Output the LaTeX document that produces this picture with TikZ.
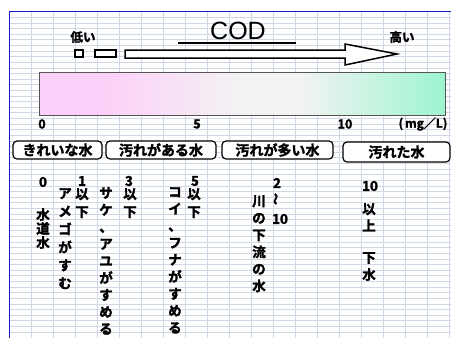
\documentclass[tikz,border=0pt]{standalone}
\usepackage{fontspec}
\newfontfamily\jpb{Noto Sans CJK JP Bold}[FakeBold=2]
\newfontfamily\codfont{Liberation Sans}
\definecolor{gridc}{RGB}{208,215,229}
\definecolor{pinkc}{RGB}{252,208,248}
\definecolor{midc}{RGB}{243,243,243}
\definecolor{mintc}{RGB}{158,244,208}
\definecolor{bluec}{RGB}{20,30,200}
\definecolor{barc}{RGB}{85,85,85}
\pgfdeclarehorizontalshading{codbar}{100bp}{color(0bp)=(pinkc); color(25bp)=(pinkc); color(33bp)=(pinkc); color(50bp)=(midc); color(57bp)=(midc); color(75bp)=(mintc); color(100bp)=(mintc)}
\tikzset{
  lbl/.style={inner sep=0pt, font=\jpb\fontsize{12.5}{14}\selectfont},
  num/.style={inner sep=0pt, font=\jpb\fontsize{13.5}{15}\selectfont},
  btn/.style={draw=black, line width=1.2pt, fill=white, rounded corners=4pt, inner sep=0pt, font=\jpb\fontsize{14}{15}\selectfont},
  vt/.style={inner sep=0pt, anchor=north, align=center, font=\jpb\fontsize{13.5}{18}\selectfont},
  vtt/.style={inner sep=0pt, anchor=north, align=center, font=\jpb\fontsize{13.5}{14}\selectfont},
  vts/.style={inner sep=0pt, anchor=north, align=center, font=\jpb\fontsize{13.5}{17}\selectfont},
}
\begin{document}
\begin{tikzpicture}[x=1pt,y=-1pt]
\useasboundingbox (0,0) rectangle (451,338);
\fill[white] (0,0) rectangle (451,338);
% grid
\foreach \i in {1,...,57} \draw[gridc, line width=0.8pt] (9.3,11.7+5.62*\i) -- (451,11.7+5.62*\i);
\foreach \i in {1,...,20} \draw[gridc, line width=1pt] (9.3+22*\i,11.7) -- (9.3+22*\i,338);
\draw[bluec, line width=1.5pt] (9.3,338) -- (9.3,11.7) -- (451,11.7);
% top
\node[lbl] (low) at (83,37) {低い};
\node[lbl] (high) at (402,37) {高い};
\node[inner sep=0pt, font=\codfont\fontsize{25}{28}\selectfont] (cod) at (238,31) {COD};
\draw[line width=2pt] (178,43) -- (296,43);
\draw[line width=1.5pt, fill=white] (75,50) rectangle (83,57);
\draw[line width=1.5pt, fill=white] (95,50) rectangle (116,57);
\draw[line width=1.5pt, fill=white, line join=miter] (125,50) -- (345,50) -- (345,44) -- (397,54) -- (345,65) -- (345,58) -- (125,58) -- cycle;
% bar
\shadedraw[shading=codbar, draw=barc, line width=1pt] (39,72) rectangle (445,115);
% scale
\node[num, font=\jpb\fontsize{12.5}{14}\selectfont] (n0) at (42,124) {0};
\node[num, font=\jpb\fontsize{12.5}{14}\selectfont] (n5) at (197,124) {5};
\node[num, font=\jpb\fontsize{12.5}{14}\selectfont] (n10) at (345,124) {10};
\node[num, font=\jpb\fontsize{12}{14}\selectfont] (unit) at (423,124) {(\,mg／L)};
% buttons
\node[btn, minimum width=89pt, minimum height=18pt] (b1) at (57.5,150) {きれいな水};
\node[btn, minimum width=110pt, minimum height=18pt] (b2) at (161,150) {汚れがある水};
\node[btn, minimum width=111pt, minimum height=18pt] (b3) at (277.5,150) {汚れが多い水};
\node[btn, minimum width=107pt, minimum height=20pt] (b4) at (396.5,152) {汚れた水};
% lower columns
\node[num] (c0) at (43,182) {0};
\node[vtt] (c0t) at (43,208) {水\\道\\水};
\node[num] (c1) at (82,181) {1};
\node[vt] (c1a) at (82,188) {以\\下};
\node[vt] (c1t) at (65,188) {ア\\メ\\ゴ\\が\\す\\む};
\node[num] (c3) at (129,181) {3};
\node[vt] (c3a) at (130,188) {以\\下};
\node[vts] (c3t) at (106,187) {サ\\ケ\\、\\ア\\ユ\\が\\す\\め\\る};
\node[num] (c5) at (195,181) {5};
\node[vt] (c5a) at (194,188) {以\\下};
\node[vts] (c5t) at (175,187) {コ\\イ\\、\\フ\\ナ\\が\\す\\め\\る};
\node[num] (c2) at (277,183) {2};
\node[inner sep=0pt, font=\jpb\fontsize{12}{14}\selectfont, rotate=90] (c2w) at (277,199) {～};
\node[num] (c10) at (280,219) {10};
\node[vts] (c2t) at (259,195) {川\\の\\下\\流\\の\\水};
\node[num] (d10) at (370,186) {10};
\node[vts] (d10a) at (369,203) {以\\上};
\node[vts] (d10b) at (369,252) {下\\水};
\end{tikzpicture}
\end{document}
